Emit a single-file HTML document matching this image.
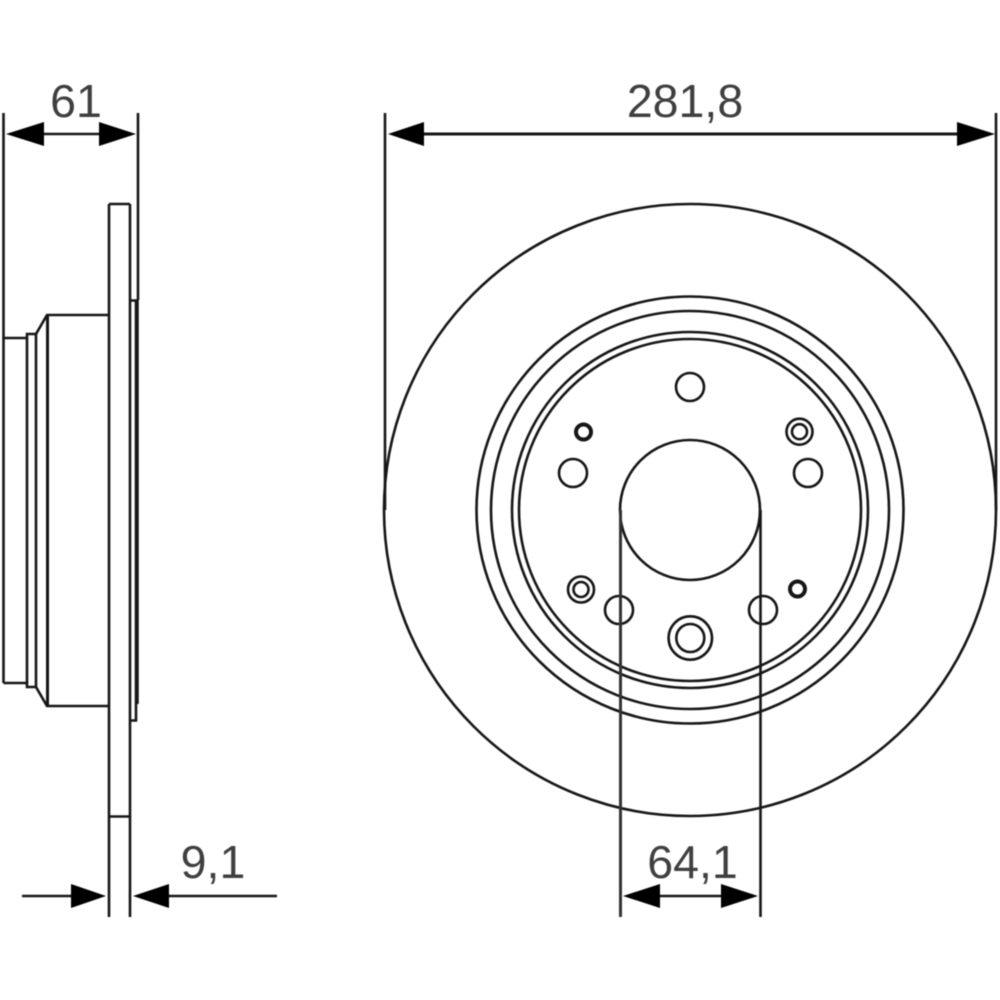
<!DOCTYPE html>
<html>
<head>
<meta charset="utf-8">
<style>
html,body{margin:0;padding:0;background:#fff;width:1000px;height:1000px;overflow:hidden}
svg{display:block;filter:blur(.4px)}
text{font-family:"Liberation Sans",sans-serif;font-size:46.500px;fill:#3f3f3f;text-anchor:middle}
</style>
</head>
<body>
<svg width="1000" height="1000" viewBox="0 0 1000 1000" xmlns="http://www.w3.org/2000/svg">
<rect width="1000" height="1000" fill="#fff"/>
<g fill="none" stroke="#161616" stroke-width="2.600">
  <!-- Front view -->
  <circle cx="690" cy="510" r="306"/>
  <circle cx="690" cy="510" r="213.500"/>
  <circle cx="690" cy="510" r="199"/>
  <circle cx="690" cy="510" r="178"/>
  <circle cx="690" cy="510" r="171"/>
  <circle cx="690" cy="510" r="70"/>
  <circle cx="690" cy="387" r="14"/>
  <circle cx="573" cy="473" r="14"/>
  <circle cx="808" cy="473" r="14"/>
  <circle cx="619" cy="610" r="14"/>
  <circle cx="763" cy="610" r="14"/>
  <circle cx="690.300" cy="638" r="21.700"/>
  <circle cx="690.300" cy="638" r="14"/>
  <circle cx="799.500" cy="431.700" r="13"/>
  <circle cx="799.500" cy="431.700" r="7.500"/>
  <circle cx="581" cy="589.500" r="13"/>
  <circle cx="581" cy="589.500" r="7.500"/>
  <circle cx="583.500" cy="432" r="7.500" stroke-width="4"/>
  <circle cx="797.500" cy="589" r="7.500" stroke-width="4"/>

  <!-- Side view -->
  <path d="M3.500 338H27V334H36L47 315H109M3.500 683H27V687H36L47 706H109"/>
  <path d="M27 338V683M36 334V687"/>
  <path d="M47.500 315V706" stroke-width="3"/>
  <path d="M109 204H130M109 204V917M130 204V917M109 816.500H130"/>
  <path d="M130 300.500H136V720.500H130"/>
  <path d="M137 300V704" stroke-width="3.500"/>

  <!-- Extension lines -->
  <path d="M3.500 113V683"/>
  <path d="M138 113V300"/>
  <path d="M385 113V510"/>
  <path d="M996 113V510"/>
  <path d="M620.500 510V917" stroke="#333" stroke-width="3"/>
  <path d="M760.500 510V917"/>

  <!-- Dimension lines -->
  <path d="M40 134H104"/>
  <path d="M420 134H960" stroke-width="3"/>
  <path d="M22 896H75"/>
  <path d="M165 896H277"/>
  <path d="M655 896H725"/>
</g>

<g fill="#000">
  <polygon points="6,134 44,122 44,146"/>
  <polygon points="136,134 99,122 99,146"/>
  <polygon points="388,134 424,122 424,146"/>
  <polygon points="995,134 957,122 957,146"/>
  <polygon points="106,896 71,884 71,908"/>
  <polygon points="133,896 169,884 169,908"/>
  <polygon points="623,896 660,884 660,908"/>
  <polygon points="758,896 721,884 721,908"/>
</g>

<text x="76" y="117">61</text>
<text x="685" y="117">281,8</text>
<text x="213" y="878">9,1</text>
<text x="692.500" y="878">64,1</text>
</svg>
</body>
</html>
